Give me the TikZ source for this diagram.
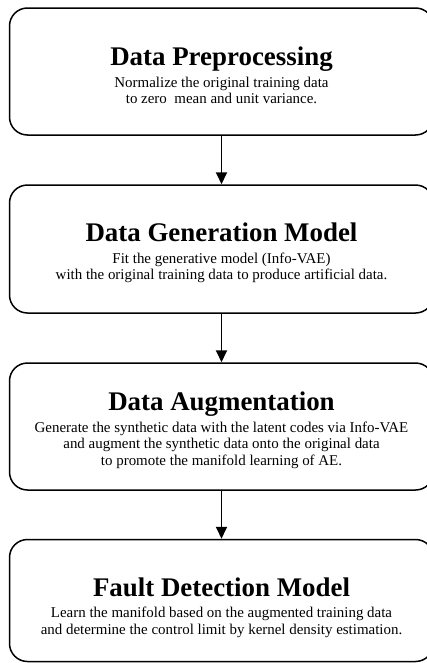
\documentclass[tikz,border=0pt]{standalone}
\usepackage{fontspec}
\setmainfont{Liberation Serif}
\usetikzlibrary{arrows.meta}
\newcommand{\mytitlefont}{\fontsize{27}{30}\selectfont\bfseries}
\newcommand{\mybodyfont}{\fontsize{15}{16.5}\selectfont}
\tikzset{
  stagebox/.style={draw=black, line width=1.5bp, rounded corners=18bp, minimum width=424bp, inner sep=0pt},
  stagetext/.style={align=center, inner sep=0pt, font=\mybodyfont},
  flowarrow/.style={line width=1.8bp, -{Triangle[width=11bp,length=12bp]}},
}
\begin{document}
\begin{tikzpicture}
\useasboundingbox (0,0) rectangle (427bp,-663bp);
\begin{scope}
\clip (0,0) rectangle (427bp,-663bp);
\node[stagebox, minimum height=127bp] (b1) at (221.5bp,-71.5bp) {};
\node[stagebox, minimum height=128bp] (b2) at (221.5bp,-249bp) {};
\node[stagebox, minimum height=127bp] (b3) at (221.5bp,-426.5bp) {};
\node[stagebox, minimum height=122bp] (b4) at (221.5bp,-600.5bp) {};
\node[stagetext] (t1) at ([yshift=-4bp]b1.center)
  {\mytitlefont Data Preprocessing\\[5bp]
   Normalize the original training data\\to zero\ \ mean and unit variance.};
\node[stagetext] (t2) at ([yshift=-4bp]b2.center)
  {\mytitlefont Data Generation Model\\[5bp]
   Fit the generative model (Info-VAE)\\with the original training data to produce artificial data.};
\node[stagetext] (t3) at ([yshift=-3.5bp]b3.center)
  {\mytitlefont Data Augmentation\\[5bp]
   Generate the synthetic data with the latent codes via Info-VAE\\and augment the synthetic data onto the original data\\to promote the manifold learning of AE.};
\node[stagetext] (t4) at ([yshift=-7bp]b4.center)
  {\mytitlefont Fault Detection Model\\[5bp]
   Learn the manifold based on the augmented training data\\and determine the control limit by kernel density estimation.};
\draw[flowarrow] (b1.south) -- (b2.north);
\draw[flowarrow] (b2.south) -- (b3.north);
\draw[flowarrow] (b3.south) -- (b4.north);
\end{scope}
\end{tikzpicture}
\end{document}
